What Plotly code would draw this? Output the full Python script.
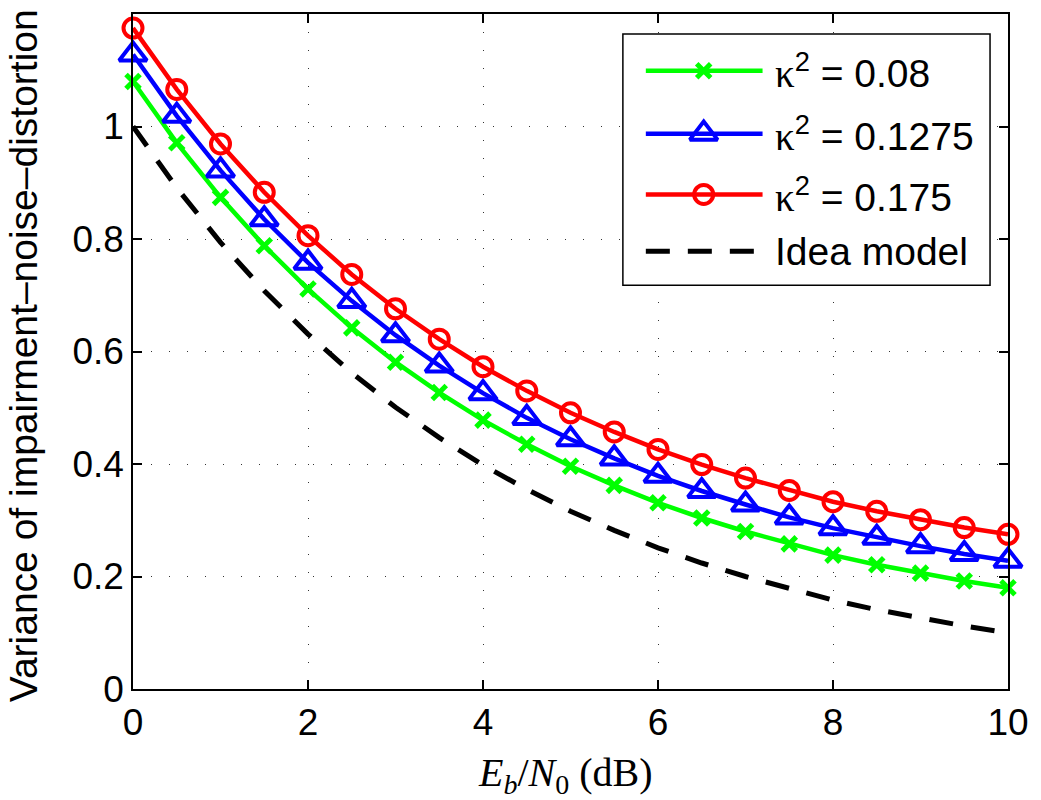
import plotly.graph_objects as go

# Eb/N0 sweep (dB)
ebn0_db = [0, 0.5, 1, 1.5, 2, 2.5, 3, 3.5, 4, 4.5, 5, 5.5, 6, 6.5, 7, 7.5, 8, 8.5, 9, 9.5, 10]

# variance curves for each impairment level
var_k008 = [1.080, 0.971, 0.874, 0.788, 0.711, 0.642, 0.581, 0.527, 0.478, 0.435, 0.396,
            0.362, 0.331, 0.304, 0.280, 0.258, 0.238, 0.221, 0.206, 0.192, 0.180]
var_k01275 = [1.128, 1.019, 0.922, 0.835, 0.758, 0.690, 0.629, 0.575, 0.526, 0.482, 0.444,
              0.410, 0.379, 0.352, 0.328, 0.305, 0.286, 0.269, 0.254, 0.240, 0.228]
var_k0175 = [1.175, 1.066, 0.969, 0.883, 0.806, 0.737, 0.676, 0.622, 0.573, 0.530, 0.491,
             0.457, 0.426, 0.399, 0.375, 0.353, 0.333, 0.316, 0.301, 0.287, 0.275]
var_ideal = [1.000, 0.891, 0.794, 0.708, 0.631, 0.562, 0.501, 0.447, 0.398, 0.355, 0.316,
             0.282, 0.251, 0.224, 0.200, 0.178, 0.158, 0.141, 0.126, 0.112, 0.100]

x_ticks = [0, 2, 4, 6, 8, 10]
y_ticks = [0, 0.2, 0.4, 0.6, 0.8, 1]
X_RANGE = [0, 10]
Y_RANGE = [0, 1.2]

KAPPA = "<span style='font-family:Liberation Serif, Times New Roman, serif'>κ</span>"
labels = [KAPPA + "<sup>2</sup> = 0.08", KAPPA + "<sup>2</sup> = 0.1275",
          KAPPA + "<sup>2</sup> = 0.175", "Idea model"]

W, H = 1041, 800
ML, MR, MT, MB = 133, 31, 12, 111
PW, PH = W - ML - MR, H - MT - MB

SANS = "Liberation Sans, Arial, Helvetica, sans-serif"
SERIF = "Liberation Serif, Times New Roman, serif"

green, blue, red = "#00ff00", "#0000ff", "#ff0000"
LW = 4.5

styles = [
    dict(color=green, marker=dict(symbol="x-thin", size=14, line=dict(color=green, width=5))),
    dict(color=blue, marker=dict(symbol="triangle-up-open", size=24, color=blue, line=dict(color=blue, width=4))),
    dict(color=red, marker=dict(symbol="circle-open", size=19, color=red, line=dict(color=red, width=4))),
]


def px_to_x(px):
    return X_RANGE[0] + (px - ML) / PW * (X_RANGE[1] - X_RANGE[0])


def px_to_y(py):
    return Y_RANGE[0] + (MT + PH - py) / PH * (Y_RANGE[1] - Y_RANGE[0])


fig = go.Figure()

fig.add_trace(go.Scatter(x=ebn0_db, y=var_ideal, mode="lines",
                         line=dict(color="black", width=5, dash="24px,18px"),
                         showlegend=False, cliponaxis=False))
for ys, st in zip([var_k008, var_k01275, var_k0175], styles):
    fig.add_trace(go.Scatter(x=ebn0_db, y=ys, mode="lines+markers",
                             line=dict(color=st["color"], width=LW),
                             marker=st["marker"], showlegend=False, cliponaxis=False))

# legend box and samples, laid out in pixel units
LEG_X0, LEG_X1, LEG_Y0, LEG_Y1 = 624, 992, 32, 284
SAMPLE_X0, SAMPLE_X1, SAMPLE_MID = 647, 764, 705
ROW_Y = [69, 132, 193, 250]
TEXT_X = 774

fig.add_shape(type="rect", xref="x", yref="y",
              x0=px_to_x(LEG_X0), x1=px_to_x(LEG_X1), y0=px_to_y(LEG_Y0), y1=px_to_y(LEG_Y1),
              line=dict(color="black", width=1.5), fillcolor="white", layer="between")

for ry, st in zip(ROW_Y[:3], styles):
    fig.add_trace(go.Scatter(x=[px_to_x(SAMPLE_X0), px_to_x(SAMPLE_X1)], y=[px_to_y(ry)] * 2,
                             mode="lines", line=dict(color=st["color"], width=LW),
                             showlegend=False, hoverinfo="skip"))
    fig.add_trace(go.Scatter(x=[px_to_x(SAMPLE_MID)], y=[px_to_y(ry)], mode="markers",
                             marker=st["marker"], showlegend=False, hoverinfo="skip"))
fig.add_trace(go.Scatter(x=[px_to_x(SAMPLE_X0), px_to_x(SAMPLE_X1)], y=[px_to_y(ROW_Y[3])] * 2,
                         mode="lines", line=dict(color="black", width=5, dash="24px,18px"),
                         showlegend=False, hoverinfo="skip"))

for ry, lab in zip(ROW_Y, labels):
    fig.add_annotation(x=px_to_x(TEXT_X), y=px_to_y(ry), xref="x", yref="y", text=lab,
                       showarrow=False, xanchor="left", yanchor="middle",
                       font=dict(family=SANS, size=39, color="black"))

axis_common = dict(showline=True, linecolor="black", linewidth=1.5, mirror="ticks",
                   ticks="inside", ticklen=9, tickwidth=1.5, tickcolor="black",
                   showgrid=True, gridcolor="#333333", gridwidth=1, griddash="1px,17px",
                   zeroline=False, tickfont=dict(family=SANS, size=37, color="black"))

fig.update_layout(
    width=W, height=H,
    margin=dict(l=ML, r=MR, t=MT, b=MB, pad=0),
    paper_bgcolor="white", plot_bgcolor="white",
    xaxis=dict(range=X_RANGE, tickvals=x_ticks, ticklabelstandoff=0, **axis_common),
    yaxis=dict(range=Y_RANGE, tickvals=y_ticks, ticklabelstandoff=0, **axis_common),
)

fig.add_annotation(x=(24 - ML) / PW, y=(MT + PH - 355) / PH, xref="paper", yref="paper",
                   text="Variance of impairment–noise–distortion", textangle=-90,
                   showarrow=False, xanchor="center", yanchor="middle",
                   font=dict(family=SANS, size=39, color="black"))
fig.add_annotation(x=(566 - ML) / PW, y=(MT + PH - 775) / PH, xref="paper", yref="paper",
                   text="<i>E</i><sub><i>b</i></sub>/<i>N</i><sub>0</sub> (dB)", showarrow=False,
                   xanchor="center", yanchor="middle",
                   font=dict(family=SERIF, size=40, color="black"))

fig.write_html("out.html")
